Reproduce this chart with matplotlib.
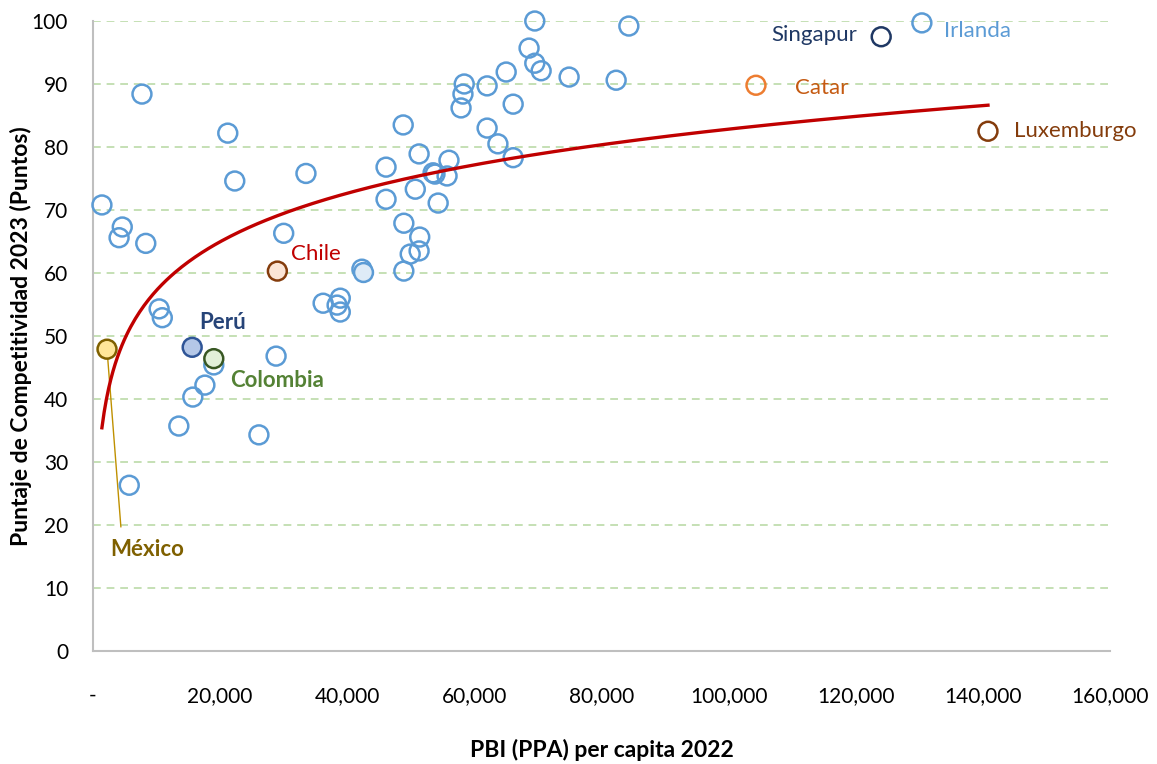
import matplotlib
matplotlib.use("Agg")
import matplotlib.pyplot as plt
from matplotlib.ticker import FuncFormatter
import numpy as np

plt.rcParams['font.family'] = ['Lato', 'DejaVu Sans']

# resto de paises (circulos azules)
pbi_otros = [1400, 4600, 4100, 8300, 7700, 21200, 22300, 10400, 10900, 19000,
             17600, 15700, 13500, 5700, 26100, 28800, 30000, 33500, 36200, 38900,
             38400, 38900, 42300, 46100, 46100, 48800, 48900, 48900, 49900, 50700,
             51300, 51400, 51300, 53500, 53800, 55700, 56000, 54300, 57900, 58200,
             58400, 62000, 62000, 63700, 65000, 66100, 66100, 68600, 69500, 69500,
             70500, 74900, 82300, 84300, 130400]
pts_otros = [70.8, 67.3, 65.6, 64.7, 88.4, 82.2, 74.6, 54.3, 52.9, 45.4,
             42.2, 40.3, 35.7, 26.3, 34.3, 46.8, 66.3, 75.8, 55.2, 56.0,
             54.9, 53.8, 60.6, 76.8, 71.7, 83.5, 67.9, 60.3, 63.0, 73.3,
             78.9, 65.7, 63.5, 75.9, 75.7, 75.4, 77.9, 71.1, 86.2, 88.4,
             90.0, 89.7, 83.0, 80.5, 91.9, 86.8, 78.3, 95.7, 93.3, 100.0,
             92.1, 91.1, 90.6, 99.2, 99.7]

# punto con relleno celeste
pbi_claro = [42400]
pts_claro = [60.2]

# paises destacados
paises = ["México", "Perú", "Colombia", "Chile", "Catar", "Singapur", "Luxemburgo"]
pbi_dest = [2200, 15600, 19000, 29000, 104300, 124000, 140800]
pts_dest = [47.9, 48.2, 46.4, 60.3, 89.8, 97.5, 82.5]

fig = plt.figure(figsize=(11.57, 7.64), dpi=100)
ax = fig.add_axes([0.0804, 0.148, 0.879, 0.8245])

ms = 185
ax.scatter(pbi_otros, pts_otros, s=ms, facecolors='none', edgecolors='#5B9BD5',
           linewidths=1.8, zorder=3, clip_on=False)
ax.scatter(pbi_claro, pts_claro, s=ms, facecolors='#DEEBF7', edgecolors='#5B9BD5',
           linewidths=1.8, zorder=3, clip_on=False)

caras = ['#FFE699', '#B4C7E7', '#E2F0D9', '#FBE5D6', 'none', 'none', 'none']
bordes = ['#7F6000', '#2F5597', '#385723', '#843C0C', '#ED7D31', '#1F3864', '#843C0C']
ax.scatter(pbi_dest, pts_dest, s=ms, facecolors=caras, edgecolors=bordes,
           linewidths=1.8, zorder=4, clip_on=False)

# linea de tendencia logaritmica
todos_x = np.array(pbi_otros + pbi_claro + pbi_dest, dtype=float)
todos_y = np.array(pts_otros + pts_claro + pts_dest, dtype=float)
a, b = np.polyfit(np.log(todos_x), todos_y, 1)
xt = np.linspace(todos_x.min(), todos_x.max(), 400)
ax.plot(xt, a * np.log(xt) + b, color='#C00000', lw=2.4, zorder=5)

# etiquetas
fs = 16
etiq = {
    "México":     dict(off=(2, -144), color='#7F6000', weight='bold', ha='left'),
    "Perú":       dict(off=(5, 18), color='#264478', weight='bold', ha='left'),
    "Colombia":   dict(off=(12, -16), color='#548235', weight='bold', ha='left'),
    "Chile":      dict(off=(10, 12), color='#C00000', weight='normal', ha='left'),
    "Catar":      dict(off=(28, -2), color='#C55A11', weight='normal', ha='left'),
    "Singapur":   dict(off=(-17, 1), color='#1F3864', weight='normal', ha='right'),
    "Luxemburgo": dict(off=(19, 0), color='#843C0C', weight='normal', ha='left'),
}
for nombre, x, y in zip(paises, pbi_dest, pts_dest):
    e = etiq[nombre]
    ax.annotate(nombre, (x, y), xytext=e['off'], textcoords='offset points',
                ha=e['ha'], va='center', color=e['color'], fontweight=e['weight'], fontsize=fs)
ax.annotate("Irlanda", (pbi_otros[-1], pts_otros[-1]), xytext=(16, -6), textcoords='offset points',
            ha='left', va='center', color='#5B9BD5', fontsize=fs)

# linea guia de Mexico
ax.annotate("", (pbi_dest[0], pts_dest[0]), xytext=(10, -128), textcoords='offset points',
            arrowprops=dict(arrowstyle='-', color='#BF9000', lw=1, shrinkA=0, shrinkB=0), zorder=2)

ax.set_xlim(0, 160000)
ax.set_ylim(0, 100)
ax.set_xticks(np.arange(0, 160001, 20000))
ax.set_yticks(np.arange(0, 101, 10))
ax.xaxis.set_major_formatter(FuncFormatter(lambda x, p: "-" if x == 0 else format(int(x), ',')))
ax.tick_params(length=0, labelsize=15)
ax.tick_params(axis='x', pad=25)
ax.tick_params(axis='y', pad=18)

ax.yaxis.grid(True, color='#C5E0B4', linestyle=(0, (4, 3)), lw=1.4)
ax.set_axisbelow(True)
for s in ['top', 'right']:
    ax.spines[s].set_visible(False)
for s in ['left', 'bottom']:
    ax.spines[s].set_color('#BFBFBF')
    ax.spines[s].set_linewidth(1.5)

ax.set_xlabel("PBI (PPA) per capita 2022", fontsize=16.5, fontweight='bold', labelpad=24)
ax.set_ylabel("Puntaje de Competitividad 2023 (Puntos)", fontsize=16.5, fontweight='bold', labelpad=0)

fig.savefig("out.png", dpi=100)
